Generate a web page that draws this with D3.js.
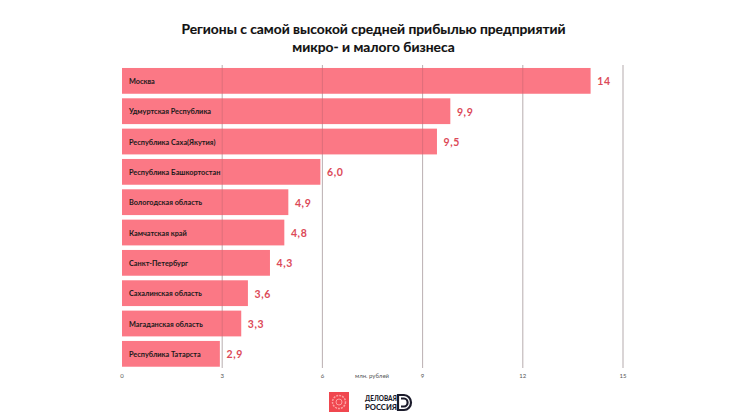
<!DOCTYPE html>
<html><head><meta charset="utf-8">
<script src="https://cdnjs.cloudflare.com/ajax/libs/d3/7.8.5/d3.min.js"></script>
<style>html,body{margin:0;padding:0;background:#fff}svg{display:block}text{font-family:Lato,sans-serif}</style>
</head><body><svg id="c" width="747" height="418"></svg>
<script>
const titleLines=["Регионы с самой высокой средней прибылью предприятий","микро- и малого бизнеса"];
const regions=["Москва","Удмуртская Республика","Республика Саха(Якутия)","Республика Башкортостан","Вологодская область","Камчатская край","Санкт-Петербург","Сахалинская область","Магаданская область","Республика Татарста"];
const barValues=[14.03,9.83,9.43,5.94,4.98,4.86,4.43,3.77,3.57,2.93];
const valueLabels=["14","9,9","9,5","6,0","4,9","4,8","4,3","3,6","3,3","2,9"];
const ticks=[0,3,6,9,12,15];
const unitLabel="млн. рублей";
const svg=d3.select("#c");
const x=d3.scaleLinear().domain([0,15]).range([122,623]);
const y=d3.scaleBand().domain(regions).range([65.7,369]).paddingInner(0.15).paddingOuter(0.075);
svg.append("g").selectAll("text").data(titleLines).join("text")
 .attr("x",373.5).attr("y",(d,i)=>33.5+i*18.5).attr("text-anchor","middle")
 .attr("font-size",13.8).attr("font-weight",700).attr("stroke","#111").attr("stroke-width",.15).attr("fill","#111").text(d=>d);
svg.append("g").selectAll("line").data(ticks.slice(1)).join("line")
 .attr("x1",d=>x(d)).attr("x2",d=>x(d)).attr("y1",65).attr("y2",368)
 .attr("stroke","#cfcfcf").attr("stroke-width",1);
svg.append("g").selectAll("rect").data(regions).join("rect")
 .attr("x",x(0)).attr("y",d=>y(d)).attr("height",y.bandwidth())
 .attr("width",(d,i)=>x(barValues[i])-x(0)).attr("fill","#fb7885");
svg.append("g").selectAll("line").data(ticks.slice(1)).join("line")
 .attr("x1",d=>x(d)).attr("x2",d=>x(d)).attr("y1",65).attr("y2",368)
 .attr("stroke","#7a4a50").attr("stroke-opacity",.22).attr("stroke-width",1);
svg.append("g").selectAll("text").data(regions).join("text")
 .attr("x",129).attr("y",d=>y(d)+y.bandwidth()/2+3.2).attr("font-size",7.3).attr("font-weight",700).attr("fill","#1a1a1a").text(d=>d);
svg.append("g").selectAll("text").data(valueLabels).join("text")
 .attr("x",(d,i)=>x(barValues[i])+6.6).attr("y",(d,i)=>y(regions[i])+y.bandwidth()/2+4.6).attr("font-size",10.5).attr("font-weight",700).attr("letter-spacing",.6).attr("fill","#dc4a58").text(d=>d);
svg.append("g").selectAll("text").data(ticks).join("text")
 .attr("x",d=>x(d)).attr("y",378).attr("text-anchor","middle").attr("font-size",6).attr("fill","#555").text(d=>d);
svg.append("text").attr("x",372).attr("y",378).attr("text-anchor","middle").attr("font-size",6).attr("fill","#555").text(unitLabel);
// logos
const lg=svg.append("g");
lg.append("rect").attr("x",329).attr("y",392).attr("width",20).attr("height",20).attr("fill","#f0474f");
lg.append("circle").attr("cx",339).attr("cy",402).attr("r",6.5).attr("fill","none").attr("stroke","#fca0a0").attr("stroke-width",1.5).attr("stroke-dasharray","2 1");
lg.append("circle").attr("cx",339).attr("cy",402).attr("r",3).attr("fill","none").attr("stroke","#fca0a0").attr("stroke-width",1);
lg.append("text").attr("x",365).attr("y",401).attr("font-size",7.4).attr("font-weight",900).attr("font-family","Roboto").attr("textLength",32).attr("lengthAdjust","spacingAndGlyphs").attr("fill","#1b1b2b").text("ДЕЛОВАЯ");
lg.append("text").attr("x",365).attr("y",410).attr("font-size",7.4).attr("font-weight",900).attr("font-family","Roboto").attr("textLength",32).attr("lengthAdjust","spacingAndGlyphs").attr("fill","#1b1b2b").text("РОССИЯ");
lg.append("path").attr("d","M398,395 H404 A7,7.5 0 0 1 404,410 H398 Z M401,398.5 H404 A3.6,4 0 0 1 404,406.5 H401").attr("fill","none").attr("stroke","#1b1b2b").attr("stroke-width",2.2);
</script></body></html>
